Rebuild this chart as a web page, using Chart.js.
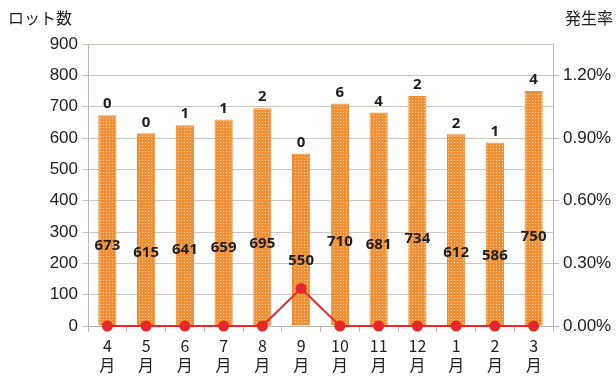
<!DOCTYPE html>
<html>
<head>
<meta charset="utf-8">
<script src="https://cdn.jsdelivr.net/npm/chart.js@4/dist/chart.umd.min.js"></script>
<style>
  html, body { margin: 0; padding: 0; background: #fff; }
  #wrap { width: 616px; height: 381px; position: relative; }
</style>
</head>
<body>
<div id="wrap"><canvas id="lots"></canvas></div>
<script>
// Months (fiscal year, April to March)
const months = ['4', '5', '6', '7', '8', '9', '10', '11', '12', '1', '2', '3'];
// Lot count per month
const lotCounts = [673, 615, 641, 659, 695, 550, 710, 681, 734, 612, 586, 750];
// Number shown above each bar
const topCounts = [0, 0, 1, 1, 2, 0, 6, 4, 2, 2, 1, 4];
// Occurrence rate (%)
const rates = [0, 0, 0, 0, 0, 0.18, 0, 0, 0, 0, 0, 0];
// Right axis ticks
const rateTicks = [0, 0.3, 0.6, 0.9, 1.2];

const FONT = '"Noto Sans CJK JP", "Noto Sans", sans-serif';

// Orange bar fill with small light dots
function dotPattern() {
    const c = document.createElement('canvas');
    c.width = 3;
    c.height = 3;
    const g = c.getContext('2d');
    g.fillStyle = '#f28f34';
    g.fillRect(0, 0, 3, 3);
    g.fillStyle = '#fcdcaf';
    g.fillRect(1, 1, 1, 1);
    return g.createPattern(c, 'repeat');
}

// Axis titles and the numbers on/above the bars
const labelsPlugin = {
    id: 'barLabels',
    afterDatasetsDraw(chart) {
        const ctx = chart.ctx;
        const meta = chart.getDatasetMeta(1);
        const y = chart.scales.y;
        ctx.save();
        ctx.textAlign = 'center';
        ctx.textBaseline = 'middle';
        ctx.fillStyle = '#1e1e1e';
        ctx.font = 'bold 15px "Open Sans", sans-serif';
        meta.data.forEach((bar, i) => {
            ctx.fillText(topCounts[i], bar.x, bar.y - 11);
            ctx.fillText(lotCounts[i], bar.x, y.getPixelForValue(lotCounts[i] * 0.38));
        });
        ctx.font = '16px ' + FONT;
        ctx.textAlign = 'left';
        ctx.fillText('ロット数', 8, 18);
        ctx.textAlign = 'right';
        ctx.fillText('発生率', 613, 18);
        ctx.restore();
    }
};

const lotsChart = new Chart(document.getElementById('lots'), {
    data: {
        labels: months.map(m => [m, '月']),
        datasets: [{
            type: 'line',
            data: rates,
            yAxisID: 'y1',
            borderColor: '#e8272b',
            backgroundColor: '#e8272b',
            borderWidth: 2,
            pointRadius: 5.5,
            pointBackgroundColor: '#e8272b',
            pointBorderWidth: 0,
            tension: 0,
            clip: false,
            order: 0
        }, {
            type: 'bar',
            data: lotCounts,
            yAxisID: 'y',
            backgroundColor: dotPattern(),
            borderColor: '#ef8a30',
            borderWidth: 1,
            barPercentage: 0.47,
            categoryPercentage: 1,
            order: 1
        }]
    },
    options: {
        responsive: true,
        maintainAspectRatio: false,
        animation: false,
        layout: { padding: { top: 44, left: 0, right: 0, bottom: 0 } },
        plugins: { legend: { display: false }, tooltip: { enabled: false } },
        scales: {
            x: {
                grid: { display: true, drawOnChartArea: false, color: '#bdb6b2', tickLength: 6, offset: true },
                border: { color: '#bdb6b2' },
                ticks: { color: '#222', font: { family: FONT, size: 16 }, maxRotation: 0, padding: 4 },
                afterFit(s) { s.height = 55; }
            },
            y: {
                position: 'left',
                min: 0,
                max: 900,
                ticks: { stepSize: 100, color: '#222', font: { family: 'Liberation Sans, sans-serif', size: 17 }, padding: 4 },
                grid: { color: '#cfc6c2', tickLength: 6 },
                border: { color: '#bdb6b2' },
                afterFit(s) { s.width = 88; }
            },
            y1: {
                position: 'right',
                min: 0,
                max: 1.35,
                afterBuildTicks(s) { s.ticks = rateTicks.map(v => ({ value: v })); },
                ticks: {
                    color: '#222',
                    font: { family: 'Liberation Sans, sans-serif', size: 17 },
                    padding: 4,
                    callback: v => v.toFixed(2) + '%'
                },
                grid: { drawOnChartArea: false, color: '#bdb6b2', tickLength: 6 },
                border: { color: '#bdb6b2' },
                afterFit(s) { s.width = 63; }
            }
        }
    },
    plugins: [labelsPlugin]
});
</script>
</body>
</html>
